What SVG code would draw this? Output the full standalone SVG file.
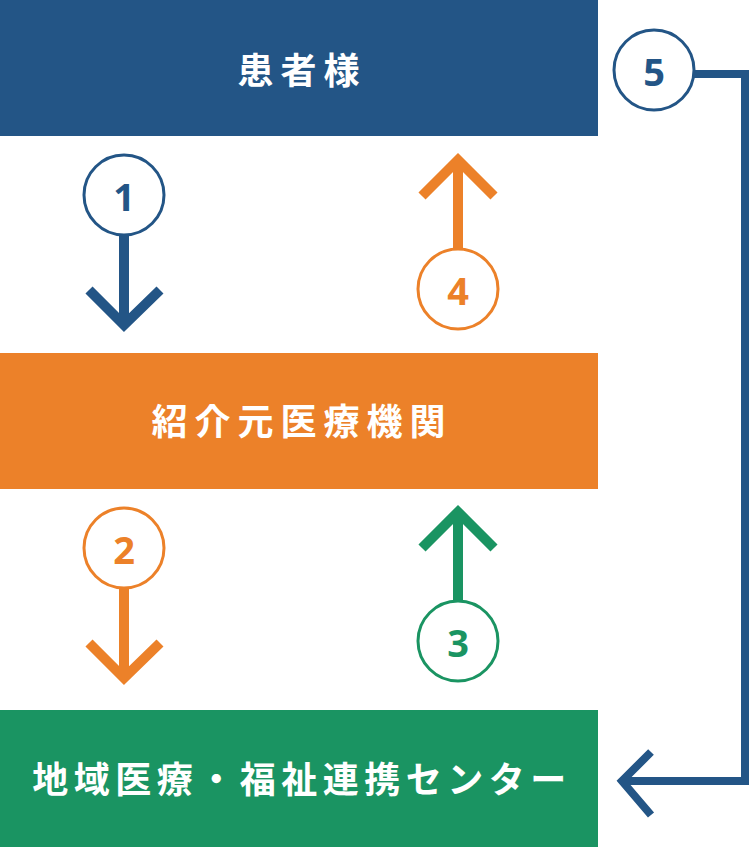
<svg xmlns="http://www.w3.org/2000/svg" width="750" height="847" viewBox="0 0 750 847">
<style>
.lbl{font-family:"Noto Sans CJK JP","Noto Sans",sans-serif;font-weight:bold;font-size:36px;fill:#fff;letter-spacing:7px;text-anchor:middle;dominant-baseline:central}
.num{font-family:"Noto Sans","Liberation Sans",sans-serif;font-weight:bold;font-size:38px;text-anchor:middle;dominant-baseline:central}
.ring{fill:#fff;stroke-width:3}
.ln{fill:none;stroke-width:10}
.blue{stroke:#235586}.orange{stroke:#EC8129}.green{stroke:#1A9462}
</style>
<rect width="750" height="847" fill="#fff"/>
<g id="patient"><rect x="0" y="0" width="598" height="136" fill="#235586"/><text class="lbl" x="302" y="68">患者様</text></g>
<g id="referrer"><rect x="0" y="353" width="598" height="136" fill="#EC8129"/><text class="lbl" x="302" y="419">紹介元医療機関</text></g>
<g id="center"><rect x="0" y="710" width="598" height="137" fill="#1A9462"/><text class="lbl" x="302" y="777" style="letter-spacing:5.5px">地域医療・福祉連携センター</text></g>
<g id="connectors">
<g id="step1"><path class="ln blue" d="M124 236V326M89 290L124 325L160 290"/><circle class="ring blue" cx="124" cy="195" r="40"/><text class="num" x="124" y="196" fill="#235586">1</text></g>
<g id="step4"><path class="ln orange" d="M458 250V160M422 196L458 160L494 196"/><circle class="ring orange" cx="458" cy="289" r="40"/><text class="num" x="458" y="290" fill="#EC8129">4</text></g>
<g id="step2"><path class="ln orange" d="M124 589V679M89 643L124 678L160 643"/><circle class="ring orange" cx="124" cy="548" r="40"/><text class="num" x="124" y="549" fill="#EC8129">2</text></g>
<g id="step3"><path class="ln green" d="M458 602V512M422 548L458 512L494 548"/><circle class="ring green" cx="458" cy="641" r="40"/><text class="num" x="458" y="642" fill="#1A9462">3</text></g>
<g id="step5"><path fill="none" stroke="#235586" stroke-width="8" d="M694 74H745V781H622M651 752L622 781L651 815"/><circle class="ring blue" cx="654" cy="70" r="40"/><text class="num" x="654" y="71" fill="#235586">5</text></g>
</g>
</svg>
